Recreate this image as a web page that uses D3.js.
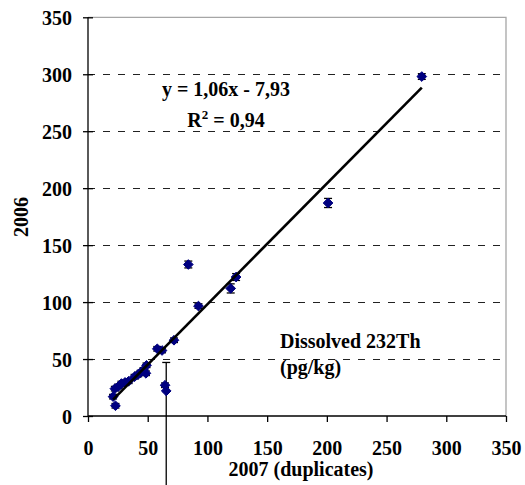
<!DOCTYPE html>
<html><head><meta charset="utf-8">
<script src="https://cdn.jsdelivr.net/npm/d3@7"></script>
<style>
html,body{margin:0;padding:0;background:#fff;}
svg{display:block;}
text{font-family:"Liberation Serif","Times New Roman","DejaVu Serif",serif;font-weight:bold;fill:#000;}
</style></head>
<body>
<script>
// Data
const x2007 = [21, 23, 22.5, 25.5, 28, 31, 34, 39, 42, 44, 46.5, 49, 48.5, 58, 62, 72, 64.5, 65.5, 84, 92.5, 119.5, 124, 201, 279.5];
const y2006 = [17, 9, 24, 26, 28.5, 29.5, 30.5, 34.5, 36.5, 38, 40.5, 44.5, 37.5, 59, 57.5, 66.5, 27, 22, 133, 96.5, 112, 122, 187, 298];
const errUp = [2, 2, 2, 2, 2, 2, 2, 2, 2, 2, 2, 2, 2, 2, 2, 2, 2, 25, 3, 2, 4, 3, 4, 2.5];
const errDown = [2, 2, 2, 2, 2, 2, 2, 2, 2, 2, 2, 2, 2, 2, 2, 2, 2, 85, 3, 2, 4, 3, 4, 2.5];
const trendCoef = [1.06, -7.93];
const xTicks = [0, 50, 100, 150, 200, 250, 300, 350];
const yTicks = [0, 50, 100, 150, 200, 250, 300, 350];
const equationText = "y = 1,06x - 7,93";
const xTitle = "2007 (duplicates)";
const yTitle = "2006";

(function () {
const W = 525, H = 485;
const FS = "20px";
const pLeft = 88, pRight = 506, pTop = 17.3, pBottom = 416;
const svg = d3.select("body").append("svg").attr("width", W).attr("height", H);
const x = d3.scaleLinear().domain([0, 350]).range([pLeft, pRight]);
const y = d3.scaleLinear().domain([0, 350]).range([pBottom, pTop]);

// plot area border (grey top/right)
svg.append("path")
  .attr("d", `M${pLeft},${pTop}H${pRight}V${pBottom}`)
  .attr("fill", "none").attr("stroke", "#a6a6a6").attr("stroke-width", 1.3);

// gridlines
svg.append("g").selectAll("line").data(yTicks.filter(v => v > 0 && v < 350)).join("line")
  .attr("x1", pLeft).attr("x2", pRight)
  .attr("y1", d => Math.round(y(d)) + 0.5).attr("y2", d => Math.round(y(d)) + 0.5)
  .attr("stroke", "#222").attr("stroke-width", 1).attr("stroke-dasharray", "7,8");

// axes
const xAxis = d3.axisBottom(x).tickValues(xTicks).tickSize(6).tickFormat(d3.format("d"));
const gx = svg.append("g").attr("transform", `translate(0,${pBottom})`).call(xAxis);
gx.select(".domain").attr("stroke", "#000").attr("stroke-width", 1.3).attr("d", `M${pLeft},0H${pRight}`);
gx.selectAll(".tick line").attr("stroke", "#000").attr("stroke-width", 1.3);
gx.selectAll(".tick text").style("font-size", FS).style("font-family", null).style("font-weight", "bold").attr("dy", null).attr("y", 39);

const yAxis = d3.axisLeft(y).tickValues(yTicks).tickSize(5).tickFormat(d3.format("d"));
const gy = svg.append("g").attr("transform", `translate(${pLeft},0)`).call(yAxis);
gy.select(".domain").attr("stroke", "#000").attr("stroke-width", 1.3).attr("d", `M0,${pTop}V${pBottom}`);
gy.selectAll(".tick line").attr("stroke", "#000").attr("stroke-width", 1.3).attr("x1", 5).attr("x2", -5);
gy.selectAll(".tick text").style("font-size", FS).style("font-weight", "bold").attr("x", -16).attr("dy", "0.36em");
svg.selectAll(".tick text").attr("font-family", null);
svg.selectAll("g").attr("font-family", null).attr("font-size", null);

const pts = x2007.map((v, i) => ({x: v, y: y2006[i], up: errUp[i], dn: errDown[i]}));

// error bars
const eb = svg.append("g").attr("stroke", "#000").attr("stroke-width", 1.3);
pts.forEach(p => {
  const cx = x(p.x);
  eb.append("line").attr("x1", cx).attr("x2", cx).attr("y1", y(p.y + p.up)).attr("y2", y(p.y - p.dn));
  eb.append("line").attr("x1", cx - 4).attr("x2", cx + 4).attr("y1", y(p.y + p.up)).attr("y2", y(p.y + p.up));
  if (p.dn < 30) eb.append("line").attr("x1", cx - 4).attr("x2", cx + 4).attr("y1", y(p.y - p.dn)).attr("y2", y(p.y - p.dn));
});

// markers
svg.append("g").selectAll("path").data(pts).join("path")
  .attr("d", d3.symbol().type(d3.symbolDiamond2).size(60))
  .attr("transform", d => `translate(${x(d.x)},${y(d.y)})`)
  .attr("fill", "#000080").attr("stroke", "#000080").attr("stroke-width", 1);

// trend line
const xmin = d3.min(x2007), xmax = d3.max(x2007);
svg.append("line")
  .attr("x1", x(xmin)).attr("y1", y(trendCoef[0] * xmin + trendCoef[1]))
  .attr("x2", x(xmax)).attr("y2", y(trendCoef[0] * xmax + trendCoef[1]))
  .attr("stroke", "#000").attr("stroke-width", 2.6);

// equation texts
svg.append("text").attr("x", 226).attr("y", 96).attr("text-anchor", "middle").style("font-size", FS).text(equationText);
const r2 = svg.append("text").attr("x", 226).attr("y", 127).attr("text-anchor", "middle").style("font-size", FS);
r2.append("tspan").text("R");
r2.append("tspan").attr("dy", -8).style("font-size", "13px").text("2");
r2.append("tspan").attr("dy", 8).text(" = 0,94");

// annotation
svg.append("text").attr("x", 280).attr("y", 348).style("font-size", FS).text("Dissolved 232Th");
svg.append("text").attr("x", 280).attr("y", 374).style("font-size", FS).text("(pg/kg)");

// axis titles
svg.append("text").attr("x", 301).attr("y", 476).attr("text-anchor", "middle").style("font-size", FS).text(xTitle);
svg.append("text").attr("transform", "translate(28,217) rotate(-90)").attr("text-anchor", "middle").style("font-size", FS).text(yTitle);
})();
</script>
</body></html>
